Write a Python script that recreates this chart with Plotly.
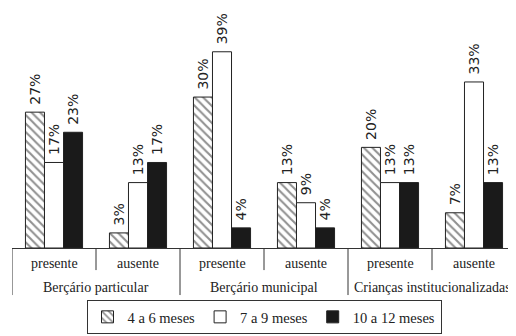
import plotly.graph_objects as go

groups = ["Berçário particular", "Berçário municipal", "Crianças institucionalizadas"]
categories = ["BP-presente", "BP-ausente", "BM-presente", "BM-ausente", "CI-presente", "CI-ausente"]
sub_labels = ["presente", "ausente", "presente", "ausente", "presente", "ausente"]

series_names = ["4 a 6 meses", "7 a 9 meses", "10 a 12 meses"]
v_4_6 = [27, 3, 30, 13, 20, 7]
v_7_9 = [17, 13, 39, 9, 13, 33]
v_10_12 = [23, 17, 4, 4, 13, 13]

label_font = dict(family="DejaVu Sans, sans-serif", size=14, color="#222")
serif = "Liberation Serif, Times New Roman, serif"

fig = go.Figure()
styles = [
    dict(color="white", pattern=dict(shape="\\", fgcolor="#222", bgcolor="white", size=6, solidity=0.35)),
    dict(color="white"),
    dict(color="#1a1a1a"),
]
for name, vals, st in zip(series_names, [v_4_6, v_7_9, v_10_12], styles):
    fig.add_trace(go.Bar(
        x=categories, y=vals, name=name,
        marker=dict(line=dict(color="#222", width=1), **st),
        text=[f"\u00a0{v}%" for v in vals], textposition="outside", textangle=-90,
        textfont=label_font, constraintext="none", cliponaxis=False,
    ))

shapes = []
for xpos in [-0.5, 1.5, 3.5]:
    shapes.append(dict(type="line", xref="x", yref="paper", x0=xpos, x1=xpos, y0=0, y1=-0.196,
                       line=dict(color="#333", width=1)))
for xpos in [0.5, 2.5, 4.5]:
    shapes.append(dict(type="line", xref="x", yref="paper", x0=xpos, x1=xpos, y0=0, y1=-0.092,
                       line=dict(color="#333", width=1)))

annotations = []
for i, lab in enumerate(sub_labels):
    annotations.append(dict(x=i, y=-0.0625, xref="x", yref="paper", text=lab, showarrow=False,
                            font=dict(family=serif, size=14, color="#222"), yanchor="middle"))
for g, lab in enumerate(groups):
    annotations.append(dict(x=2 * g + 0.5, y=-0.1625, xref="x", yref="paper", text=lab, showarrow=False,
                            font=dict(family=serif, size=14, color="#222"), yanchor="middle"))

fig.update_layout(
    width=508, height=328,
    margin=dict(l=4, r=0, t=0, b=88, autoexpand=False),
    plot_bgcolor="white", paper_bgcolor="white",
    barmode="group", bargap=0.32, bargroupgap=0,
    showlegend=True,
    legend=dict(orientation="h", x=0.5, xanchor="center", y=-0.358, yanchor="bottom",
                bordercolor="#333", borderwidth=1, font=dict(family=serif, size=14.5, color="#222"),
                tracegroupgap=0),
    shapes=shapes, annotations=annotations,
)
fig.update_xaxes(range=[-0.5, 5.5], showticklabels=False, ticks="", showline=True,
                 linecolor="#333", linewidth=1, showgrid=False, zeroline=False)
fig.update_yaxes(range=[0, 47.7], visible=False, showgrid=False, zeroline=False)

fig.write_html("out.html")
